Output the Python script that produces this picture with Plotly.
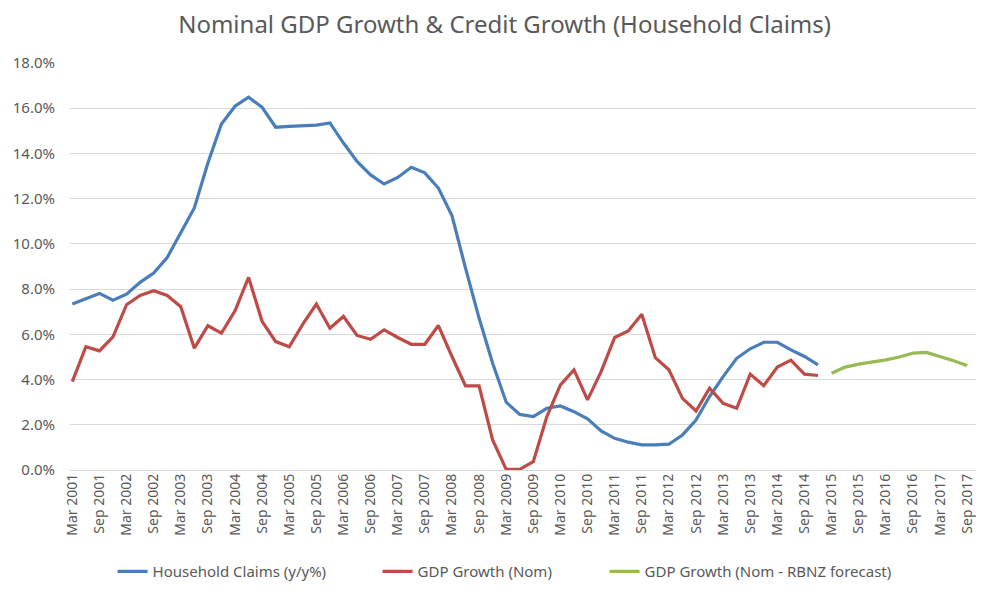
import plotly.graph_objects as go

# quarterly labels Mar 2001 .. Sep 2017
months = ["Mar", "Jun", "Sep", "Dec"]
quarters = [f"{m} {y}" for y in range(2001, 2018) for m in months][:67]

# Household claims, y/y %  (Mar 2001 .. Dec 2014)
household_claims = [
    7.34, 7.57, 7.81, 7.51, 7.78, 8.30, 8.71, 9.40, 10.51, 11.59, 13.58, 15.30,
    16.09, 16.49, 16.04, 15.16, 15.20, 15.23, 15.25, 15.35, 14.46, 13.65, 13.05, 12.65,
    12.94, 13.39, 13.14, 12.47, 11.25, 8.93, 6.72, 4.72, 3.00, 2.46, 2.36, 2.73,
    2.83, 2.58, 2.26, 1.73, 1.40, 1.23, 1.11, 1.11, 1.14, 1.55, 2.21, 3.25,
    4.13, 4.94, 5.36, 5.65, 5.65, 5.31, 5.02, 4.65,
]

# Nominal GDP growth, y/y %  (Mar 2001 .. Dec 2014)
gdp_nominal = [
    3.91, 5.45, 5.27, 5.89, 7.31, 7.72, 7.93, 7.72, 7.22, 5.39, 6.38, 6.05,
    7.04, 8.52, 6.57, 5.68, 5.45, 6.45, 7.34, 6.27, 6.79, 5.95, 5.78, 6.20,
    5.86, 5.56, 5.56, 6.39, 5.02, 3.72, 3.72, 1.33, 0.03, 0.03, 0.37, 2.36,
    3.76, 4.43, 3.10, 4.35, 5.86, 6.15, 6.89, 4.97, 4.43, 3.17, 2.61, 3.62,
    2.95, 2.73, 4.24, 3.73, 4.55, 4.86, 4.24, 4.18,
]

# RBNZ forecast of nominal GDP growth  (Mar 2015 .. Sep 2017)
gdp_forecast = [4.28, 4.55, 4.68, 4.77, 4.87, 5.00, 5.17, 5.20, 5.02, 4.83, 4.62]

n_hist = len(household_claims)
grey = "#595959"

fig = go.Figure()
fig.add_trace(go.Scatter(
    x=quarters[:n_hist], y=household_claims, mode="lines",
    name="Household Claims (y/y%)", line=dict(color="#4a7ebb", width=3.2),
    legend="legend",
))
fig.add_trace(go.Scatter(
    x=quarters[:n_hist], y=gdp_nominal, mode="lines",
    name="GDP Growth (Nom)", line=dict(color="#be4b48", width=3.2),
    legend="legend2",
))
fig.add_trace(go.Scatter(
    x=quarters[n_hist:n_hist + len(gdp_forecast)], y=gdp_forecast, mode="lines",
    name="GDP Growth (Nom - RBNZ forecast)", line=dict(color="#98b954", width=3.2),
    legend="legend3",
))

# page body has an 8px margin on every side -> keep the figure inside it
# legends use container y so they don't push the bottom margin
leg = dict(orientation="h", xanchor="left", yref="container", y=0.0215, yanchor="middle",
           font=dict(size=15, color=grey), bgcolor="rgba(0,0,0,0)")
fig.update_layout(
    width=968, height=576,
    margin=dict(l=62, r=0, t=55, b=114),
    paper_bgcolor="white", plot_bgcolor="white",
    font=dict(family="Noto Sans", color=grey, size=14),
    title=dict(
        text="Nominal GDP Growth & Credit Growth (Household Claims)",
        x=0.513, xanchor="center", y=0.9705, yanchor="middle",
        font=dict(size=24, color=grey),
    ),
    legend=dict(leg, x=0.047),
    legend2=dict(leg, x=0.3395),
    legend3=dict(leg, x=0.590),
    showlegend=True,
)
fig.update_xaxes(
    type="category", categoryorder="array", categoryarray=quarters,
    range=[-0.17, 66.65], automargin=False,
    tickvals=quarters[::2], ticktext=quarters[::2], tickangle=-90,
    tickfont=dict(size=14, color=grey),
    showgrid=False, showline=False, ticks="", zeroline=False,
)
fig.update_yaxes(
    range=[0, 18], dtick=2, tickformat=".1f", ticksuffix="%",
    tickfont=dict(size=15, color=grey), automargin=False,
    showgrid=True, gridcolor="#d9d9d9", gridwidth=1,
    zeroline=True, zerolinecolor="#d9d9d9", zerolinewidth=1,
    ticks="", ticklen=0, ticklabelstandoff=14,
)

fig.write_html("out.html")
